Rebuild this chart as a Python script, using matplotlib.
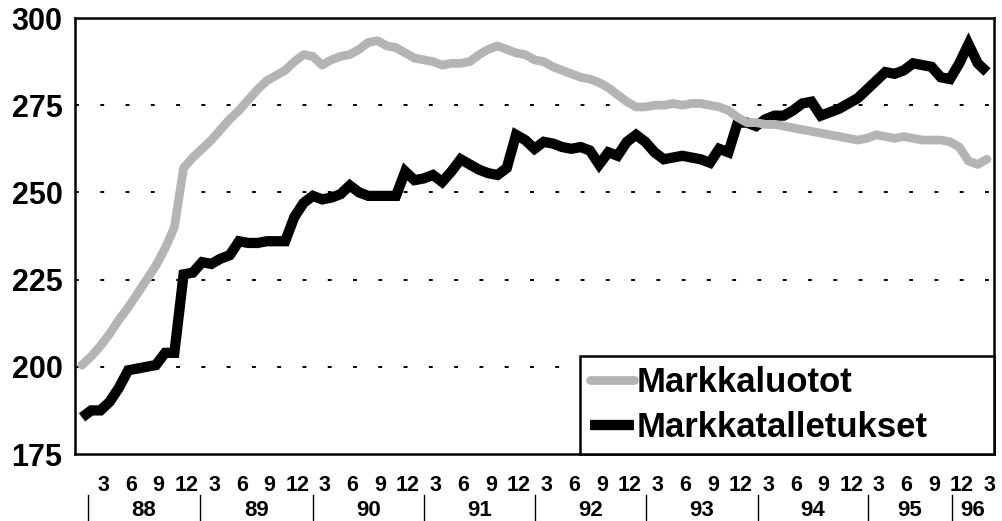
import matplotlib
matplotlib.use("Agg")
import matplotlib.pyplot as plt
from matplotlib.lines import Line2D
import matplotlib.transforms as mtransforms

# ---------------- data (monthly, Jan 1988 .. Mar 1996) ----------------
series_names = ["Markkaluotot", "Markkatalletukset"]

markkaluotot = [
    200.5, 203, 206, 209.5, 213.5, 217, 221, 225, 229, 234, 240, 257,      # 1988
    260, 262.5, 265, 268, 271, 273.5, 276.5, 279.5, 282, 283.5, 285, 287.5,  # 1989
    289.5, 289, 286.5, 288, 289, 289.5, 291, 293, 293.5, 292, 291.5, 290,    # 1990
    288.5, 288, 287.5, 286.5, 287, 287, 287.5, 289.5, 291, 292, 291, 290,    # 1991
    289.5, 288, 287.5, 286, 285, 284, 283, 282.5, 281.5, 280, 278, 276,      # 1992
    274.5, 274.5, 275, 275, 275.5, 275, 275.5, 275.5, 275, 274.5, 273.5, 271.5,  # 1993
    270, 270, 269.5, 269.5, 269, 268.5, 268, 267.5, 267, 266.5, 266, 265.5,  # 1994
    265, 265.5, 266.5, 266, 265.5, 266, 265.5, 265, 265, 265, 264.5, 263,    # 1995
    259, 258, 259.5,                                                          # 1996
]

markkatalletukset = [
    185.5, 187.5, 187.5, 190, 194, 199, 199.5, 200, 200.5, 204, 204, 226.5,  # 1988
    227, 230, 229.5, 231, 232, 236, 235.5, 235.5, 236, 236, 236, 243,        # 1989
    247, 249, 248, 248.5, 249.5, 252, 250, 249, 249, 249, 249, 256,          # 1990
    253.5, 254, 255, 253, 256, 259.5, 258, 256.5, 255.5, 255, 257, 266.5,    # 1991
    265, 262.5, 264.5, 264, 263, 262.5, 263, 262, 258, 261.5, 260.5, 264.5,  # 1992
    266.5, 264.5, 261.5, 259.5, 260, 260.5, 260, 259.5, 258.5, 262.5, 261.5, 270,  # 1993
    270, 269, 271, 272, 272, 273.5, 275.5, 276, 272, 273, 274, 275.5,        # 1994
    277, 279.5, 282, 284.5, 284, 285, 287, 286.5, 286, 283, 282.5, 287,      # 1995
    292.5, 287, 284.5,                                                        # 1996
]

month_labels = ["3", "6", "9", "12"]
year_labels = ["88", "89", "90", "91", "92", "93", "94", "95", "96"]
y_ticks = [175, 200, 225, 250, 275, 300]

# ---------------- figure ----------------
W, H = 1003, 521
fig = plt.figure(figsize=(W / 100, H / 100), dpi=100)
ax = fig.add_axes([75 / W, (H - 454) / H, (994 - 75) / W, (454 - 18) / H])

n = len(markkaluotot)
x = list(range(n))

ax.set_xlim(-0.76, n - 1 + 0.76)
ax.set_ylim(175, 300)

# grid
for v in y_ticks[1:-1]:
    ax.axhline(v, color="black", lw=1.4, linestyle=(0, (2.0, 11.0)), zorder=1)

l2, = ax.plot(x, markkatalletukset, color="black", lw=7.4,
              solid_joinstyle="miter", solid_capstyle="butt", zorder=3)
l1, = ax.plot(x, markkaluotot, color="#b4b4b4", lw=6.3,
              solid_joinstyle="round", solid_capstyle="round", zorder=4)

for s in ax.spines.values():
    s.set_linewidth(1.8)
    s.set_color("black")

font = "Liberation Sans"

# y ticks
ax.set_yticks(y_ticks)
ax.set_yticklabels([str(v) for v in y_ticks], fontfamily=font,
                   fontweight="bold", fontsize=22)
ax.tick_params(axis="y", length=0, pad=9)

# x ticks: month numbers
tick_pos = []
tick_lab = []
for i in range(n):
    m = i % 12 + 1
    if str(m) in month_labels:
        tick_pos.append(i + 0.3)
        tick_lab.append(str(m))
ax.set_xticks(tick_pos)
ax.set_xticklabels(tick_lab, fontfamily=font, fontweight="bold", fontsize=15.5)
ax.tick_params(axis="x", length=0, pad=15)

# year groups with separators
trans = mtransforms.blended_transform_factory(ax.transData, fig.transFigure)
seps = [0.65, 12.8, 25.0, 37.0, 49.05, 61.1, 73.2, 85.1, 94.2]
bounds = seps + [n - 1 + 0.76]
for k, lab in enumerate(year_labels):
    sx = seps[k]
    ax.add_line(Line2D([sx, sx], [0, (H - 495) / H], transform=trans,
                       color="black", lw=1.0, clip_on=False))
    cx = (bounds[k] + bounds[k + 1]) / 2
    ax.text(cx, (H - 511) / H, lab, transform=trans, ha="center", va="center",
            fontfamily=font, fontweight="bold", fontsize=16)

# legend (box spans from x=580px to the right axis edge)
x0 = (580 - 75) / 919
leg = ax.legend([l1, l2], series_names, loc="lower left",
                bbox_to_anchor=(x0, 0.0, 1.0 - x0, 0.25), mode="expand",
                borderaxespad=0.0, fancybox=False, framealpha=1.0,
                edgecolor="black",
                prop={"family": font, "weight": "bold", "size": 25},
                handlelength=1.27, handletextpad=0.08, borderpad=0.28,
                labelspacing=0.36)
leg.get_frame().set_linewidth(1.8)
leg.set_zorder(6)

fig.savefig("out.png", dpi=100)
